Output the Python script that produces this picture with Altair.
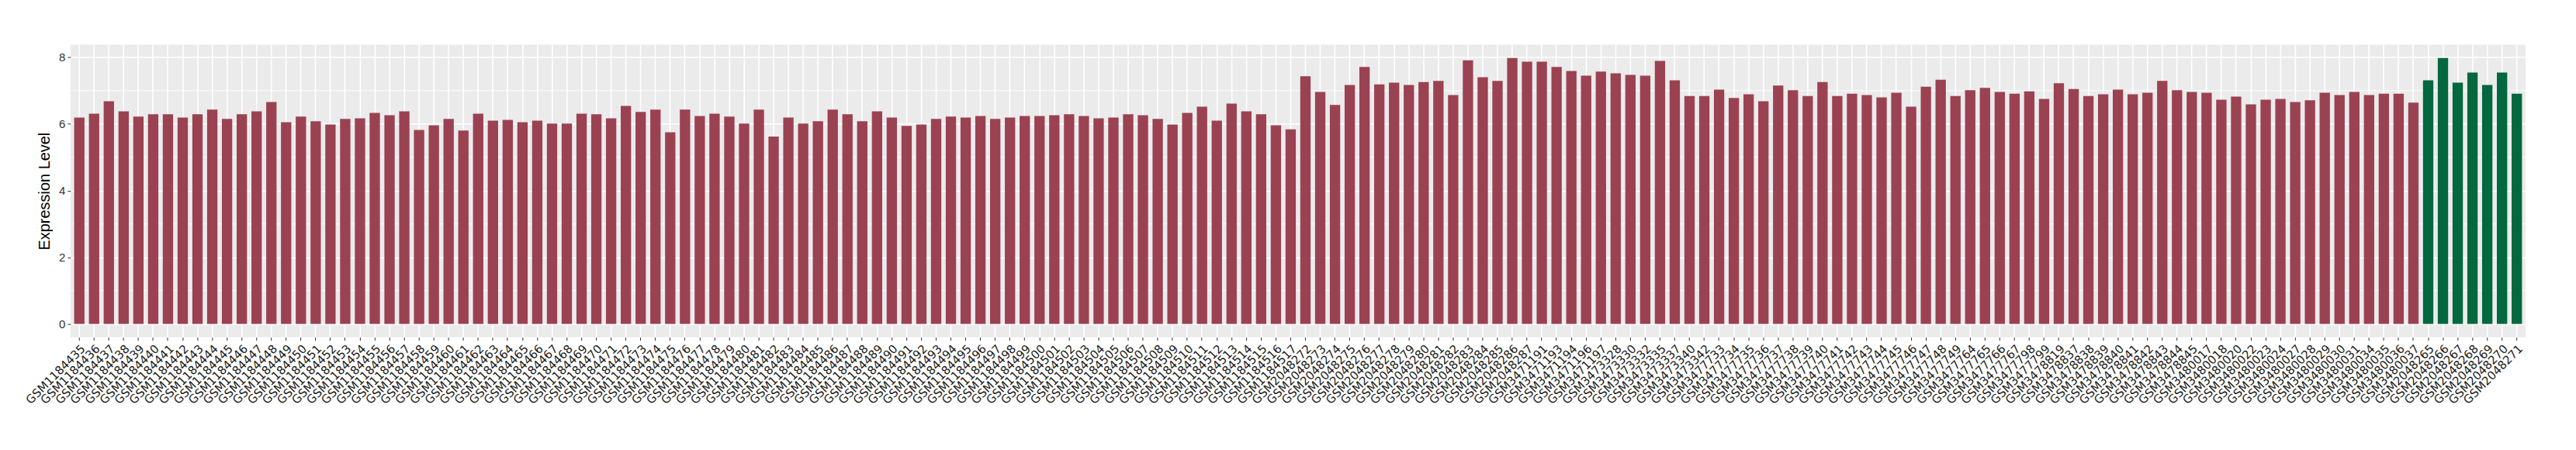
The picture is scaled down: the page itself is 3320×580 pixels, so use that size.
import altair as alt
import pandas as pd

samples = [
    "GSM1184435", "GSM1184436", "GSM1184437", "GSM1184438", "GSM1184439", "GSM1184440", "GSM1184441",
    "GSM1184442", "GSM1184443", "GSM1184444", "GSM1184445", "GSM1184446", "GSM1184447", "GSM1184448",
    "GSM1184449", "GSM1184450", "GSM1184451", "GSM1184452", "GSM1184453", "GSM1184454", "GSM1184455",
    "GSM1184456", "GSM1184457", "GSM1184458", "GSM1184459", "GSM1184460", "GSM1184461", "GSM1184462",
    "GSM1184463", "GSM1184464", "GSM1184465", "GSM1184466", "GSM1184467", "GSM1184468", "GSM1184469",
    "GSM1184470", "GSM1184471", "GSM1184472", "GSM1184473", "GSM1184474", "GSM1184475", "GSM1184476",
    "GSM1184477", "GSM1184478", "GSM1184479", "GSM1184480", "GSM1184481", "GSM1184482", "GSM1184483",
    "GSM1184484", "GSM1184485", "GSM1184486", "GSM1184487", "GSM1184488", "GSM1184489", "GSM1184490",
    "GSM1184491", "GSM1184492", "GSM1184493", "GSM1184494", "GSM1184495", "GSM1184496", "GSM1184497",
    "GSM1184498", "GSM1184499", "GSM1184500", "GSM1184501", "GSM1184502", "GSM1184503", "GSM1184504",
    "GSM1184505", "GSM1184506", "GSM1184507", "GSM1184508", "GSM1184509", "GSM1184510", "GSM1184511",
    "GSM1184512", "GSM1184513", "GSM1184514", "GSM1184515", "GSM1184516", "GSM1184517",
    "GSM2048272", "GSM2048273", "GSM2048274", "GSM2048275", "GSM2048276", "GSM2048277", "GSM2048278",
    "GSM2048279", "GSM2048280", "GSM2048281", "GSM2048282", "GSM2048283", "GSM2048284", "GSM2048285",
    "GSM2048286", "GSM2048287",
    "GSM3471191", "GSM3471193", "GSM3471194", "GSM3471196", "GSM3471197",
    "GSM3473328", "GSM3473330", "GSM3473332", "GSM3473335", "GSM3473337", "GSM3473340", "GSM3473342",
    "GSM3477733", "GSM3477734", "GSM3477735", "GSM3477736", "GSM3477737", "GSM3477738", "GSM3477739",
    "GSM3477740", "GSM3477741", "GSM3477742", "GSM3477743", "GSM3477744", "GSM3477745", "GSM3477746",
    "GSM3477747", "GSM3477748", "GSM3477749",
    "GSM3477764", "GSM3477765", "GSM3477766", "GSM3477767", "GSM3477798", "GSM3477799", "GSM3478819",
    "GSM3478837", "GSM3478838", "GSM3478839", "GSM3478840", "GSM3478841", "GSM3478842", "GSM3478843",
    "GSM3478844", "GSM3478845",
    "GSM3480017", "GSM3480018", "GSM3480020", "GSM3480022", "GSM3480023", "GSM3480024", "GSM3480027",
    "GSM3480028", "GSM3480029", "GSM3480030", "GSM3480031", "GSM3480034", "GSM3480035", "GSM3480036",
    "GSM3480037",
    "GSM2048265", "GSM2048266", "GSM2048267", "GSM2048268", "GSM2048269", "GSM2048270", "GSM2048271",
]

values = [
    6.19, 6.31, 6.68, 6.38, 6.22, 6.29, 6.29, 6.19, 6.29, 6.43, 6.15, 6.29, 6.38, 6.66, 6.05, 6.22,
    6.08, 5.98, 6.15, 6.17, 6.33, 6.26, 6.38, 5.82, 5.96, 6.15, 5.80, 6.31, 6.10, 6.12, 6.05, 6.10, 6.01,
    6.01, 6.31, 6.29, 6.17, 6.54, 6.36, 6.43, 5.75, 6.43, 6.24, 6.31, 6.22, 6.01, 6.43, 5.62, 6.19,
    6.01, 6.08, 6.43, 6.29, 6.08, 6.38, 6.19, 5.94, 5.98, 6.15, 6.22, 6.19, 6.24, 6.15, 6.19, 6.24, 6.24,
    6.26, 6.29, 6.24, 6.17, 6.19, 6.29, 6.26, 6.15, 5.98, 6.33, 6.52, 6.10, 6.61, 6.38, 6.29, 5.96,
    5.84, 7.43, 6.96, 6.57, 7.17, 7.71, 7.19, 7.24, 7.17, 7.26, 7.29, 6.87, 7.91, 7.40, 7.29, 7.98, 7.87,
    7.87, 7.71, 7.59, 7.45, 7.57, 7.52, 7.47, 7.45, 7.89, 7.31, 6.84, 6.84, 7.03, 6.78, 6.89, 6.68,
    7.15, 7.01, 6.84, 7.26, 6.84, 6.91, 6.87, 6.80, 6.94, 6.52, 7.12, 7.33, 6.84, 7.01, 7.08, 6.96, 6.91,
    6.98, 6.75, 7.22, 7.05, 6.84, 6.89, 7.03, 6.89, 6.94, 7.29, 7.01, 6.96, 6.94, 6.73, 6.82, 6.59,
    6.73, 6.75, 6.66, 6.71, 6.94, 6.87, 6.96, 6.87, 6.91, 6.91, 6.64,
    7.31, 7.98, 7.24, 7.54, 7.17, 7.54, 6.91,
]

group_names = ["Other", "Highlighted"]
group_counts = [159, 7]
group_colors = ["#9B4252", "#03673F"]
groups = [g for g, c in zip(group_names, group_counts) for _ in range(c)]

y_ticks = [0, 2, 4, 6, 8]
y_minor = [1, 3, 5, 7]

df = pd.DataFrame({"sample": samples, "value": values, "group": groups})
df_minor = pd.DataFrame({"value": y_minor})

ymax = max(values)
y_domain = [-0.05 * ymax, 1.05 * ymax]

y_scale = alt.Scale(domain=y_domain, nice=False, zero=False)

y_axis = alt.Axis(
    values=y_ticks,
    title="Expression Level",
    titleFont="Liberation Sans",
    titleFontSize=20,
    titleFontWeight="normal",
    titleColor="black",
    titlePadding=8,
    labelFont="Liberation Sans",
    labelFontSize=15,
    labelColor="#333333",
    labelPadding=3,
    tickColor="#333333",
    tickSize=4,
    tickWidth=1,
    domain=False,
    grid=True,
    gridColor="white",
    gridWidth=1.6,
)

minor = alt.Chart(df_minor).mark_rule(color="white", strokeWidth=0.9).encode(
    y=alt.Y("value:Q", scale=y_scale, axis=y_axis, title="Expression Level")
)

bars = alt.Chart(df).mark_bar().encode(
    x=alt.X(
        "sample:N",
        sort=samples,
        scale=alt.Scale(paddingInner=0.3, paddingOuter=0.25),
        axis=alt.Axis(
            title=None,
            labelAngle=315,
            labelAlign="right",
            labelBaseline="top",
            labelFont="DejaVu Sans",
            labelFontSize=15,
            labelColor="#1a1a1a",
            labelOverlap=False,
            labelPadding=3,
            labelBound=False,
            tickColor="#333333",
            tickSize=4,
            tickWidth=1,
            domain=False,
            grid=True,
            gridColor="white",
            gridWidth=1.6,
            bandPosition=0.5,
        ),
    ),
    y=alt.Y("value:Q", scale=y_scale, axis=y_axis, title="Expression Level"),
    y2=alt.datum(0),
    color=alt.Color(
        "group:N",
        scale=alt.Scale(domain=group_names, range=group_colors),
        legend=None,
    ),
)

chart = (
    alt.layer(minor, bars)
    .properties(
        width=3172,
        height=378,
        padding={"left": 83, "top": 49, "right": 57, "bottom": 137},
        autosize=alt.AutoSizeParams(type="none"),
        background="white",
    )
    .configure_view(fill="#EBEBEB", strokeWidth=0)
)

chart.save("out.html", embed_options={"renderer": "svg", "actions": False})
